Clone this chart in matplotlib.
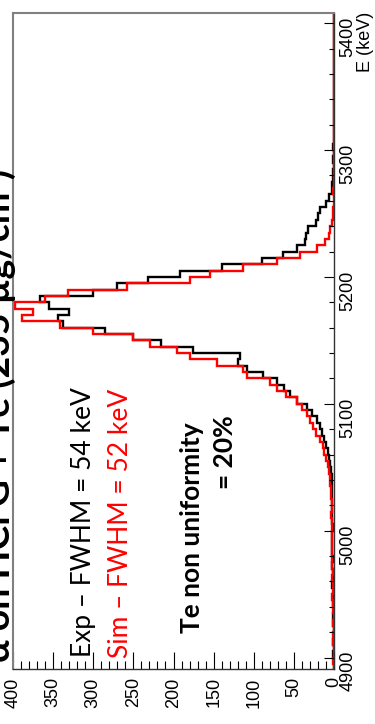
import numpy as np
import matplotlib.pyplot as plt
from matplotlib.ticker import MultipleLocator

# energy binning (keV)
e_lo, e_hi, bin_w = 4890, 5410, 5

# counts per 5 keV bin, 4890 keV upwards (10 bins per row)
exp_counts = [
    0, 0, 1, 0, 1, 0, 0, 1, 1, 0,
    1, 1, 0, 2, 1, 1, 2, 1, 2, 3,
    2, 2, 1, 3, 2, 3, 2, 3, 2, 3,
    3, 4, 5, 6, 8, 10, 13, 15, 18, 21,
    28, 34, 46, 55, 62, 71, 88, 108, 120, 117,
    176, 215, 250, 285, 338, 344, 330, 355, 366, 300,
    270, 232, 192, 140, 90, 64, 46, 36, 35, 32,
    22, 20, 17, 10, 6, 3, 2, 1, 1, 0,
    1, 0, 1, 0, 0, 0, 0, 0, 0, 0,
    0, 0, 0, 0, 0, 0, 0, 0, 0, 0,
    0, 0, 0, 0,
]
sim_counts = [
    0, 1, 0, 0, 1, 1, 0, 1, 0, 1,
    1, 2, 1, 1, 2, 1, 2, 2, 3, 2,
    3, 2, 3, 2, 4, 3, 3, 4, 4, 5,
    5, 6, 8, 10, 12, 14, 18, 22, 26, 30,
    34, 40, 46, 60, 71, 80, 108, 113, 146, 179,
    196, 229, 250, 300, 341, 389, 375, 398, 360, 331,
    258, 180, 155, 113, 71, 42, 21, 11, 6, 5,
    3, 1, 1, 0, 0, 1, 0, 0, 0, 0,
    0, 0, 0, 0, 0, 0, 0, 0, 0, 0,
    0, 0, 0, 0, 0, 0, 0, 0, 0, 0,
    0, 0, 0, 0,
]

e_ticks = [4900, 5000, 5100, 5200, 5300, 5400]
n_ticks = [0, 50, 100, 150, 200, 250, 300, 350, 400]

W, H = 375, 724


def px(x, y):
    return x / W, 1 - y / H


plt.rcParams['font.family'] = ['Liberation Sans', 'DejaVu Sans']

fig = plt.figure(figsize=(W / 100, H / 100), dpi=100)
ax = fig.add_axes([13 / W, 1 - 669 / H, (334 - 13) / W, (669 - 13) / H])

edges = np.arange(e_lo, e_hi + bin_w, bin_w)
ax.stairs(exp_counts, edges, orientation='horizontal', color='black',
          lw=1.7, baseline=None)
ax.stairs(sim_counts, edges, orientation='horizontal', color='red',
          lw=1.7, baseline=None)

ax.set_xlim(400, 0)
ax.set_ylim(4891, 5408)

ax.yaxis.tick_right()
ax.set_yticks(e_ticks)
ax.set_xticks(n_ticks)
ax.xaxis.set_minor_locator(MultipleLocator(10))
ax.yaxis.set_minor_locator(MultipleLocator(20))
ax.tick_params(axis='x', which='major', direction='in', length=12, width=0.8,
               labelrotation=90, labelsize=13, pad=6)
ax.tick_params(axis='x', which='minor', direction='in', length=5.5, width=0.8)
ax.tick_params(axis='y', which='major', direction='in', length=7, width=0.8,
               labelrotation=90, labelsize=13, pad=4)
ax.tick_params(axis='y', which='minor', direction='in', length=3.5, width=0.8)

for side in ['top', 'left']:
    ax.spines[side].set_color('#808080')
    ax.spines[side].set_linewidth(1.5)
for side in ['bottom', 'right']:
    ax.spines[side].set_color('#333333')
    ax.spines[side].set_linewidth(1.0)

fig.text(*px(366, 12), 'E (keV)', rotation=90, ha='center', va='top',
         fontsize=13)

txt = dict(rotation=90, rotation_mode='anchor', va='baseline',
           family=['Lato', 'DejaVu Sans'])
fig.text(*px(10, 662), 'α on HCl G + Te (235 µg/cm²)', ha='left',
         fontsize=27, fontweight='bold', **txt)
fig.text(*px(91, 657), 'Exp – FWHM = 54 keV', ha='left', fontsize=19,
         color='black', **txt)
fig.text(*px(128, 658), 'Sim – FWHM = 52 keV', ha='left', fontsize=19,
         color='red', **txt)
fig.text(*px(200, 633), 'Te non uniformity', ha='left', fontsize=19,
         fontweight='bold', **txt)
fig.text(*px(233, 415), '= 20%', ha='right', fontsize=19,
         fontweight='bold', **txt)

fig.savefig('out.png', dpi=100)
